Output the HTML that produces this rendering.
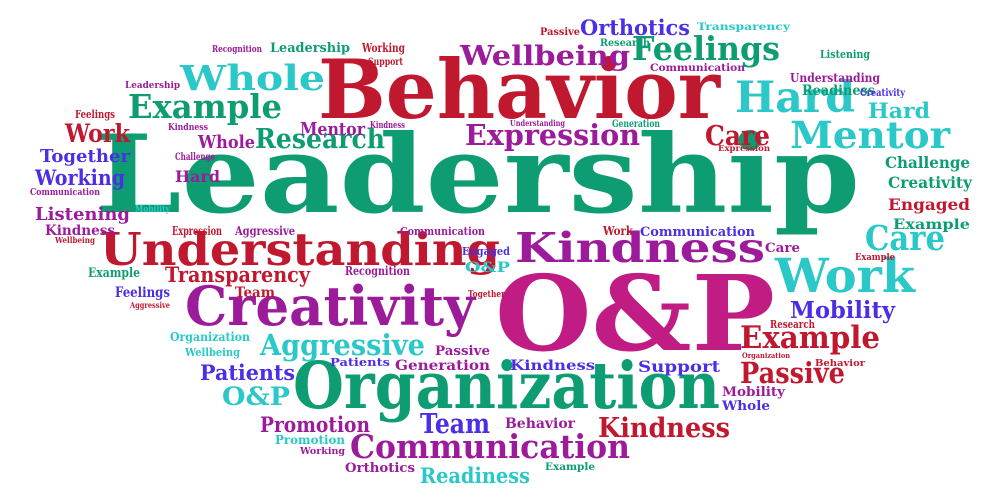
<!DOCTYPE html>
<html><head><meta charset="utf-8"><style>
html,body{margin:0;padding:0;background:#fff;}
svg{display:block;}
text{font-family:"DejaVu Serif","Liberation Serif",serif;font-weight:bold;}
</style></head><body>
<svg id="cloud" width="1001" height="499" viewBox="0 0 1001 499" xmlns="http://www.w3.org/2000/svg"></svg>
<script>
const COL={G:'#0e9d72',R:'#c0182f',P:'#9b1b9b',M:'#c01c84',C:'#2ac8c8',B:'#4b2ee6'};
const SCALE=0.9;
const words=['Leadership','Behavior','O&P','Organization','Understanding','Kindness','Creativity','Work','Mentor','Hard','Whole','Example','Research','Feelings','Wellbeing','Orthotics','Expression','Care','Care','Aggressive','Transparency','Mobility','Example','Passive','Team','Communication','Kindness','Promotion','Patients','O&P','Readiness','Work','Together','Working','Listening','Kindness','Mentor','Whole','Hard','Challenge','Creativity','Engaged','Example','Hard','Readiness','Understanding','Listening','Creativity','Transparency','Research','Passive','Communication','Leadership','Recognition','Working','Support','Leadership','Feelings','Kindness','Kindness','Understanding','Generation','Expression','Challenge','Communication','Mobility','Expression','Aggressive','Communication','Engaged','O&P','Work','Communication','Care','Example','Wellbeing','Example','Feelings','Aggressive','Team','Recognition','Together','Organization','Wellbeing','Patients','Generation','Passive','Kindness','Support','Research','Organization','Behavior','Mobility','Whole','Behavior','Promotion','Working','Orthotics','Example'];
const colors=['G','R','M','G','R','P','P','C','C','C','C','G','G','G','P','B','P','R','C','C','R','B','R','R','B','P','R','P','B','C','C','R','B','B','P','P','P','P','P','G','G','R','G','C','G','P','G','B','C','G','R','P','G','P','R','R','P','R','P','P','P','G','R','P','P','C','R','P','P','B','C','R','B','P','R','R','G','B','R','R','P','R','C','C','B','P','P','B','B','R','R','R','P','B','P','C','P','P','G'];
const sizes=[120,90,115,72,50,46,60,52,42,48,38,36,30,36,30,24,32,30,38,32,24,26,34,32,30,36,30,24,24,28,24,28,20,24,20,16,20,20,18,18,18,18,16,24,15,13,12,11,11,11,11,11,14,10,13,11,10,12,10,10,9,11,9,11,10,10,13,13,12,12,16,13,14,14,10,9,14,16,9,16,13,10,13,12,12,16,14,16,18,12,8,10,14,14,16,13,10,14,11];
const lefts=[95,318,495,293,100,515,185,775,790,735,180,128,255,632,460,580,465,705,865,260,165,790,740,740,420,350,598,260,200,222,420,65,40,35,35,45,300,198,175,885,888,888,893,868,802,790,820,860,697,600,540,650,270,212,362,368,125,75,168,370,510,612,718,175,30,135,172,235,400,462,465,603,640,765,855,55,88,115,130,235,345,468,170,185,330,395,435,510,638,770,742,815,722,722,505,275,300,345,545];
const rights=[860,720,775,720,500,765,475,915,950,855,325,282,385,780,630,690,640,770,945,425,310,895,880,845,490,630,730,370,295,290,530,130,130,125,130,115,365,255,220,970,972,970,970,930,875,880,870,905,790,650,580,745,350,262,405,403,180,115,208,405,565,660,770,215,100,170,222,295,485,510,510,633,755,800,895,95,140,170,170,275,410,505,250,240,390,490,490,595,720,815,790,865,785,770,575,345,345,415,595];
const baselines=[212,118,350,408,265,262,325,292,148,112,90,118,148,60,65,35,145,145,250,355,282,318,348,383,433,458,437,432,380,405,483,142,162,185,220,235,135,148,182,168,188,210,229,118,95,82,58,96,30,46,35,71,52,52,52,65,88,118,130,128,126,127,151,160,195,212,235,235,235,255,272,235,236,252,260,243,277,297,308,297,275,297,341,356,366,370,355,370,372,328,358,366,396,410,428,444,454,472,470];
const svg=document.getElementById('cloud');
const NS='http://www.w3.org/2000/svg';
for(let i=0;i<words.length;i++){
  const t=document.createElementNS(NS,'text');
  
  
  t.setAttribute('x',lefts[i]);
  t.setAttribute('y',baselines[i]);
  t.setAttribute('font-size',(sizes[i]*SCALE).toFixed(1));
  t.setAttribute('fill',COL[colors[i]]);
  t.setAttribute('textLength',rights[i]-lefts[i]);
  t.setAttribute('lengthAdjust','spacingAndGlyphs');
  t.textContent=words[i];
  svg.appendChild(t);
}
</script>
</body></html>
